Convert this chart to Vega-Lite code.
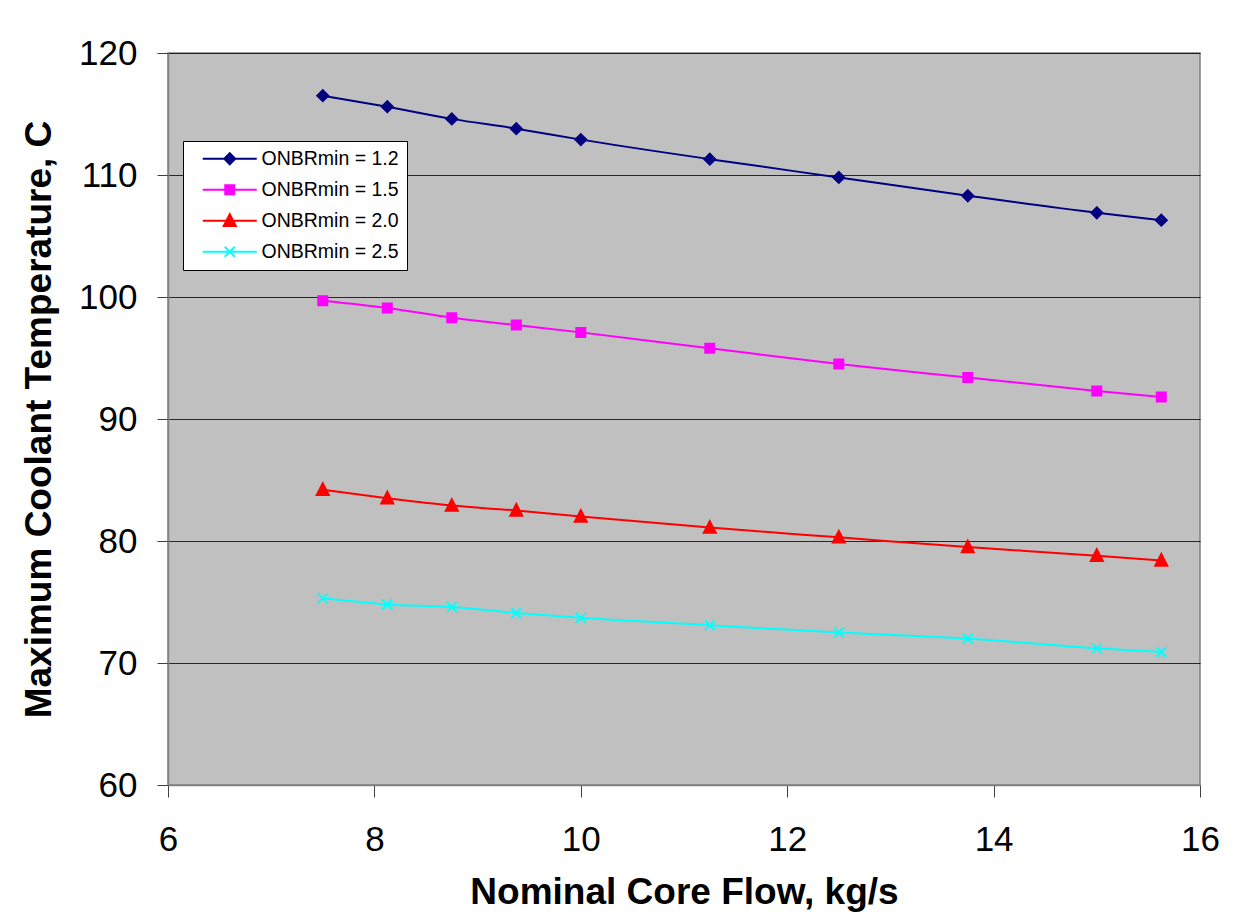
{
  "$schema": "https://vega.github.io/schema/vega-lite/v6.json",
  "width": 1032,
  "height": 732,
  "autosize": "none",
  "padding": {"left": 168, "top": 53, "right": 33, "bottom": 132},
  "background": "white",
  "data": {
    "values": [
      {"series": "ONBRmin = 1.2", "flow": 7.5, "temp": 116.5},
      {"series": "ONBRmin = 1.2", "flow": 8.125, "temp": 115.6},
      {"series": "ONBRmin = 1.2", "flow": 8.75, "temp": 114.6},
      {"series": "ONBRmin = 1.2", "flow": 9.375, "temp": 113.8},
      {"series": "ONBRmin = 1.2", "flow": 10, "temp": 112.9},
      {"series": "ONBRmin = 1.2", "flow": 11.25, "temp": 111.3},
      {"series": "ONBRmin = 1.2", "flow": 12.5, "temp": 109.8},
      {"series": "ONBRmin = 1.2", "flow": 13.75, "temp": 108.3},
      {"series": "ONBRmin = 1.2", "flow": 15, "temp": 106.9},
      {"series": "ONBRmin = 1.2", "flow": 15.625, "temp": 106.3},
      {"series": "ONBRmin = 1.5", "flow": 7.5, "temp": 99.7},
      {"series": "ONBRmin = 1.5", "flow": 8.125, "temp": 99.1},
      {"series": "ONBRmin = 1.5", "flow": 8.75, "temp": 98.3},
      {"series": "ONBRmin = 1.5", "flow": 9.375, "temp": 97.7},
      {"series": "ONBRmin = 1.5", "flow": 10, "temp": 97.1},
      {"series": "ONBRmin = 1.5", "flow": 11.25, "temp": 95.8},
      {"series": "ONBRmin = 1.5", "flow": 12.5, "temp": 94.5},
      {"series": "ONBRmin = 1.5", "flow": 13.75, "temp": 93.4},
      {"series": "ONBRmin = 1.5", "flow": 15, "temp": 92.3},
      {"series": "ONBRmin = 1.5", "flow": 15.625, "temp": 91.8},
      {"series": "ONBRmin = 2.0", "flow": 7.5, "temp": 84.2},
      {"series": "ONBRmin = 2.0", "flow": 8.125, "temp": 83.5},
      {"series": "ONBRmin = 2.0", "flow": 8.75, "temp": 82.9},
      {"series": "ONBRmin = 2.0", "flow": 9.375, "temp": 82.5},
      {"series": "ONBRmin = 2.0", "flow": 10, "temp": 82.0},
      {"series": "ONBRmin = 2.0", "flow": 11.25, "temp": 81.1},
      {"series": "ONBRmin = 2.0", "flow": 12.5, "temp": 80.3},
      {"series": "ONBRmin = 2.0", "flow": 13.75, "temp": 79.5},
      {"series": "ONBRmin = 2.0", "flow": 15, "temp": 78.8},
      {"series": "ONBRmin = 2.0", "flow": 15.625, "temp": 78.4},
      {"series": "ONBRmin = 2.5", "flow": 7.5, "temp": 75.3},
      {"series": "ONBRmin = 2.5", "flow": 8.125, "temp": 74.8},
      {"series": "ONBRmin = 2.5", "flow": 8.75, "temp": 74.6},
      {"series": "ONBRmin = 2.5", "flow": 9.375, "temp": 74.1},
      {"series": "ONBRmin = 2.5", "flow": 10, "temp": 73.7},
      {"series": "ONBRmin = 2.5", "flow": 11.25, "temp": 73.1},
      {"series": "ONBRmin = 2.5", "flow": 12.5, "temp": 72.5},
      {"series": "ONBRmin = 2.5", "flow": 13.75, "temp": 72.0},
      {"series": "ONBRmin = 2.5", "flow": 15, "temp": 71.2},
      {"series": "ONBRmin = 2.5", "flow": 15.625, "temp": 70.9}
    ]
  },
  "encoding": {
    "x": {
      "field": "flow", "type": "quantitative",
      "scale": {"domain": [6, 16], "nice": false, "zero": false},
      "axis": {
        "title": "Nominal Core Flow, kg/s",
        "values": [6, 8, 10, 12, 14, 16],
        "grid": false,
        "labelFlush": false,
        "tickSize": 12,
        "labelPadding": 25,
        "titlePadding": 17
      }
    },
    "y": {
      "field": "temp", "type": "quantitative",
      "scale": {"domain": [60, 120], "nice": false, "zero": false},
      "axis": {
        "title": "Maximum Coolant Temperature, C",
        "values": [60, 70, 80, 90, 100, 110, 120],
        "grid": true,
        "labelFlush": false,
        "tickSize": 11,
        "labelPadding": 20,
        "titlePadding": 20
      }
    }
  },
  "layer": [
    {
      "mark": {"type": "point", "filled": true, "size": 0, "opacity": 1, "strokeWidth": 2},
      "encoding": {
        "color": {
          "field": "series", "type": "nominal",
          "scale": {
            "domain": ["ONBRmin = 1.2", "ONBRmin = 1.5", "ONBRmin = 2.0", "ONBRmin = 2.5"],
            "range": ["#000080", "#FF00FF", "#FF0000", "#00FFFF"]
          },
          "legend": {
            "title": null,
            "orient": "none",
            "legendX": 15,
            "legendY": 88,
            "padding": 8,
            "strokeColor": "black",
            "fillColor": "white",
            "symbolSize": 100,
            "symbolStrokeWidth": 2,
            "symbolOpacity": 1,
            "symbolOffset": 29,
            "labelOffset": 22,
            "rowPadding": 10,
            "labelFontSize": 19.5,
            "labelFont": "Liberation Sans",
            "labelColor": "black"
          }
        },
        "shape": {
          "field": "series", "type": "nominal",
          "scale": {
            "domain": ["ONBRmin = 1.2", "ONBRmin = 1.5", "ONBRmin = 2.0", "ONBRmin = 2.5"],
            "range": [
              "M-5.4,0L5.4,0M0,-1.1L1.1,0L0,1.1L-1.1,0Z",
              "M-5.4,0L5.4,0M-0.9,-0.9L0.9,-0.9L0.9,0.9L-0.9,0.9Z",
              "M-5.4,0L5.4,0M0,-1.3L1.2,1.05L-1.2,1.05Z",
              "M-5.4,0L5.4,0M-1,-1L1,1M1,-1L-1,1"
            ]
          }
        },
        "stroke": {
          "field": "series", "type": "nominal",
          "scale": {
            "domain": ["ONBRmin = 1.2", "ONBRmin = 1.5", "ONBRmin = 2.0", "ONBRmin = 2.5"],
            "range": ["#000080", "#FF00FF", "#FF0000", "#00FFFF"]
          },
          "legend": null
        }
      }
    },
    {
      "mark": {"type": "line", "interpolate": "monotone", "strokeWidth": 2},
      "encoding": {
        "color": {"field": "series", "type": "nominal", "legend": null}
      }
    },
    {
      "transform": [{"filter": "datum.series === 'ONBRmin = 1.2'"}],
      "mark": {"type": "point", "shape": "M0,-1.1L1.1,0L0,1.1L-1.1,0Z", "size": 100, "filled": true, "fill": "#000080", "stroke": "#000080", "strokeWidth": 2, "opacity": 1}
    },
    {
      "transform": [{"filter": "datum.series === 'ONBRmin = 1.5'"}],
      "mark": {"type": "point", "shape": "M-0.9,-0.9L0.9,-0.9L0.9,0.9L-0.9,0.9Z", "size": 100, "filled": true, "fill": "#FF00FF", "stroke": "#FF00FF", "strokeWidth": 2, "opacity": 1}
    },
    {
      "transform": [{"filter": "datum.series === 'ONBRmin = 2.0'"}],
      "mark": {"type": "point", "shape": "M0,-1.3L1.2,1.05L-1.2,1.05Z", "size": 100, "filled": true, "fill": "#FF0000", "stroke": "#FF0000", "strokeWidth": 2, "opacity": 1}
    },
    {
      "transform": [{"filter": "datum.series === 'ONBRmin = 2.5'"}],
      "mark": {"type": "point", "shape": "M-1,-1L1,1M1,-1L-1,1", "size": 100, "filled": false, "fill": "transparent", "stroke": "#00FFFF", "strokeWidth": 2, "opacity": 1}
    }
  ],
  "config": {
    "font": "Liberation Sans",
    "view": {"fill": "#C0C0C0", "stroke": "#808080", "strokeWidth": 1.5},
    "axis": {
      "labelFont": "Liberation Sans",
      "labelFontSize": 35,
      "labelColor": "black",
      "titleFont": "Liberation Sans",
      "titleFontSize": 37,
      "titleFontWeight": "bold",
      "titleColor": "black",
      "tickColor": "#404040",
      "tickWidth": 1,
      "domainColor": "#808080",
      "domainWidth": 1.5,
      "gridColor": "#000000",
      "gridWidth": 1,
      "gridOpacity": 0.8
    }
  }
}
